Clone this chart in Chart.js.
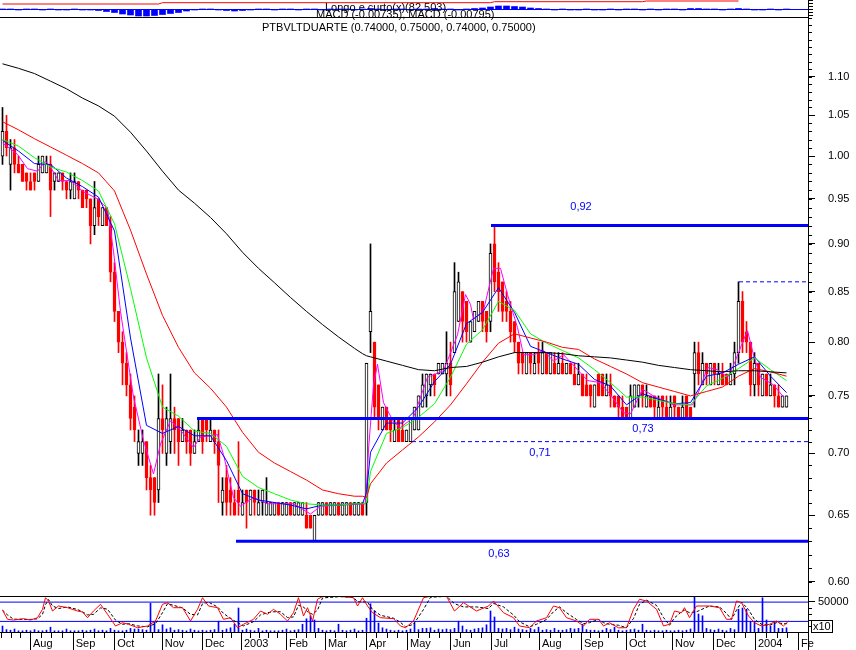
<!DOCTYPE html>
<html>
<head>
<meta charset="utf-8">
<script src="https://cdn.jsdelivr.net/npm/chart.js@4.4.0/dist/chart.umd.min.js"></script>
<style>
  body { margin: 0; background: #fff; width: 856px; height: 650px; overflow: hidden; position: relative;
         font-family: "Liberation Sans", Arial, sans-serif; }
  canvas { position: absolute; left: 0; }
  .t { position: absolute; font-size: 11px; line-height: 12px; white-space: nowrap; color: #000; }
  .box { position: absolute; font-size: 11px; line-height: 11px; border: 1px solid #000; padding: 0 1px; }
</style>
</head>
<body>
<canvas id="macd" width="856" height="17" style="top:0"></canvas>
<canvas id="price" width="856" height="579" style="top:17px"></canvas>
<canvas id="osc" width="856" height="54" style="top:596px"></canvas>
<div class="t" style="left:325px;top:1px">Longo e curto(x)(82.503)</div>
<div class="t" style="left:316px;top:8px">MACD (-0.00735), MACD (-0.00795)</div>
<div class="t" style="left:262px;top:21px">PTBVLTDUARTE (0.74000, 0.75000, 0.74000, 0.75000)</div>
<div class="box" style="left:811px;top:620px">x10</div>
<script>
Chart.defaults.font.family = '"Liberation Sans", Arial, sans-serif';
Chart.defaults.font.size = 11;
Chart.defaults.color = '#000';

// x runs in candle index units (one candle = two trading days)
const xMin = -0.625, xMax = 201.375;

const monthTicks = [6.875, 17.55, 27.95, 39.8, 49.875, 59.625, 70.875, 80.625, 90.875, 101.125,
  111.875, 122.125, 134.125, 144.625, 155.875, 167.375, 177.625, 188.125, 198.875];
const monthLabels = ['Aug', 'Sep', 'Oct', 'Nov', 'Dec', '2003', 'Feb', 'Mar', 'Apr', 'May',
  'Jun', 'Jul', 'Aug', 'Sep', 'Oct', 'Nov', 'Dec', '2004', 'Fe'];

const priceTicks = [0.60, 0.65, 0.70, 0.75, 0.80, 0.85, 0.90, 0.95, 1.00, 1.05, 1.10];
const priceMin = 0.5926, priceMax = 1.1815;

const opens = [
  1.00,1.03,0.99,1.01,0.99,0.99,0.98,0.97,0.98,0.97,
  0.98,0.98,0.99,0.97,0.97,0.98,0.97,0.96,0.95,0.97,
  0.96,0.96,0.95,0.92,0.95,0.92,0.94,0.92,0.87,0.83,
  0.80,0.78,0.76,0.74,0.70,0.70,0.71,0.68,0.68,0.67,
  0.73,0.70,0.71,0.73,0.73,0.71,0.72,0.72,0.70,0.71,
  0.73,0.73,0.71,0.72,0.71,0.66,0.68,0.67,0.66,0.67,
  0.65,0.67,0.65,0.67,0.65,0.66,0.65,0.65,0.65,0.66,
  0.65,0.65,0.66,0.65,0.65,0.65,0.65,0.65,0.63,0.65,
  0.65,0.66,0.65,0.65,0.66,0.65,0.65,0.66,0.65,0.65,
  0.66,0.66,0.81,0.80,0.76,0.72,0.74,0.73,0.71,0.73,
  0.72,0.71,0.71,0.72,0.72,0.74,0.75,0.76,0.77,0.77,
  0.77,0.77,0.78,0.79,0.82,0.85,0.84,0.80,0.81,0.82,
  0.84,0.83,0.82,0.90,0.87,0.86,0.84,0.83,0.82,0.80,
  0.79,0.77,0.79,0.77,0.79,0.77,0.79,0.77,0.78,0.77,
  0.78,0.77,0.78,0.77,0.76,0.77,0.76,0.76,0.74,0.77,
  0.77,0.75,0.76,0.75,0.75,0.74,0.74,0.73,0.74,0.75,
  0.76,0.74,0.75,0.75,0.73,0.75,0.74,0.73,0.75,0.74,
  0.73,0.75,0.74,0.77,0.79,0.76,0.78,0.76,0.78,0.76,
  0.77,0.77,0.76,0.77,0.79,0.84,0.81,0.80,0.76,0.78,
  0.75,0.77,0.75,0.76,0.75,0.74,0.74];
const highs = [
  1.06,1.05,1.02,1.02,1.00,0.99,0.98,0.98,0.98,1.00,
  1.00,1.00,1.00,0.98,0.98,0.98,0.97,0.98,0.98,0.97,
  0.96,0.96,0.95,0.97,0.95,0.94,0.94,0.93,0.88,0.83,
  0.81,0.79,0.77,0.75,0.72,0.72,0.71,0.69,0.68,0.77,
  0.76,0.74,0.77,0.74,0.73,0.73,0.72,0.72,0.72,0.73,
  0.73,0.73,0.73,0.72,0.72,0.68,0.69,0.68,0.67,0.71,
  0.67,0.67,0.67,0.67,0.67,0.67,0.68,0.66,0.66,0.66,
  0.66,0.66,0.66,0.66,0.66,0.66,0.66,0.65,0.65,0.66,
  0.66,0.66,0.66,0.66,0.66,0.66,0.66,0.66,0.66,0.66,
  0.66,0.78,0.90,0.80,0.76,0.74,0.74,0.73,0.73,0.73,
  0.73,0.72,0.73,0.74,0.75,0.77,0.77,0.77,0.77,0.78,
  0.78,0.81,0.80,0.88,0.87,0.85,0.84,0.82,0.83,0.84,
  0.84,0.83,0.90,0.92,0.88,0.86,0.85,0.84,0.82,0.80,
  0.79,0.79,0.79,0.79,0.80,0.80,0.79,0.79,0.79,0.79,
  0.79,0.78,0.78,0.78,0.78,0.77,0.77,0.76,0.76,0.77,
  0.77,0.77,0.77,0.75,0.75,0.75,0.74,0.76,0.76,0.76,
  0.76,0.76,0.75,0.75,0.75,0.75,0.75,0.75,0.75,0.74,
  0.75,0.75,0.74,0.80,0.80,0.79,0.78,0.78,0.78,0.78,
  0.78,0.77,0.78,0.80,0.86,0.85,0.82,0.80,0.79,0.78,
  0.77,0.77,0.77,0.76,0.76,0.75,0.75];
const lows = [
  0.99,1.00,0.96,0.98,0.98,0.97,0.96,0.96,0.96,0.97,
  0.98,0.98,0.93,0.96,0.97,0.96,0.95,0.95,0.95,0.95,
  0.94,0.94,0.90,0.91,0.92,0.92,0.92,0.86,0.82,0.79,
  0.76,0.75,0.72,0.71,0.69,0.69,0.67,0.65,0.65,0.66,
  0.70,0.69,0.70,0.70,0.69,0.71,0.70,0.69,0.70,0.71,
  0.70,0.71,0.71,0.70,0.66,0.65,0.65,0.65,0.65,0.65,
  0.65,0.64,0.65,0.65,0.65,0.65,0.65,0.65,0.65,0.65,
  0.65,0.65,0.65,0.65,0.65,0.65,0.64,0.64,0.63,0.65,
  0.65,0.65,0.65,0.65,0.65,0.65,0.65,0.65,0.65,0.65,
  0.65,0.65,0.79,0.73,0.72,0.72,0.72,0.71,0.71,0.71,
  0.71,0.71,0.71,0.72,0.72,0.74,0.74,0.75,0.75,0.77,
  0.77,0.75,0.75,0.79,0.82,0.80,0.80,0.80,0.81,0.82,
  0.81,0.80,0.81,0.85,0.83,0.82,0.82,0.80,0.79,0.77,
  0.77,0.77,0.77,0.77,0.77,0.77,0.77,0.77,0.77,0.77,
  0.77,0.77,0.77,0.76,0.76,0.75,0.75,0.74,0.74,0.75,
  0.75,0.75,0.74,0.74,0.73,0.73,0.73,0.73,0.74,0.74,
  0.74,0.74,0.74,0.73,0.73,0.73,0.73,0.73,0.73,0.73,
  0.73,0.73,0.73,0.74,0.76,0.76,0.76,0.76,0.76,0.76,
  0.76,0.76,0.76,0.76,0.78,0.79,0.79,0.75,0.75,0.75,
  0.75,0.75,0.75,0.74,0.74,0.74,0.74];
const closes = [
  1.03,1.01,1.01,0.99,0.98,0.97,0.97,0.96,0.97,0.99,
  1.00,0.99,0.96,0.98,0.98,0.97,0.96,0.97,0.97,0.96,
  0.94,0.95,0.92,0.94,0.93,0.94,0.92,0.87,0.83,0.80,
  0.78,0.76,0.73,0.72,0.71,0.71,0.68,0.67,0.66,0.73,
  0.72,0.73,0.73,0.72,0.71,0.72,0.71,0.70,0.71,0.72,
  0.71,0.72,0.72,0.71,0.69,0.67,0.66,0.66,0.65,0.66,
  0.66,0.66,0.67,0.66,0.66,0.67,0.66,0.66,0.66,0.65,
  0.66,0.66,0.65,0.66,0.66,0.66,0.64,0.64,0.65,0.66,
  0.66,0.65,0.66,0.66,0.65,0.66,0.66,0.65,0.66,0.66,
  0.65,0.78,0.83,0.74,0.73,0.74,0.72,0.72,0.72,0.71,
  0.71,0.72,0.73,0.74,0.75,0.76,0.77,0.77,0.76,0.78,
  0.78,0.78,0.76,0.85,0.86,0.82,0.81,0.82,0.83,0.84,
  0.82,0.81,0.89,0.86,0.85,0.83,0.83,0.81,0.80,0.78,
  0.78,0.79,0.78,0.78,0.78,0.79,0.77,0.79,0.77,0.78,
  0.77,0.78,0.77,0.76,0.77,0.75,0.75,0.75,0.76,0.75,
  0.75,0.76,0.75,0.74,0.74,0.73,0.73,0.75,0.76,0.76,
  0.75,0.75,0.74,0.74,0.74,0.74,0.73,0.74,0.74,0.73,
  0.74,0.73,0.73,0.79,0.77,0.78,0.77,0.78,0.77,0.77,
  0.76,0.76,0.77,0.79,0.84,0.80,0.80,0.76,0.78,0.76,
  0.77,0.75,0.76,0.75,0.74,0.75,0.75];

// moving averages at these candle positions
const maIdx = [0,4,8,12,16,20,24,28,32,36,40,44,48,52,56,60,64,68,72,76,80,84,88,90,91,92,
  96,100,104,108,112,116,120,124,128,132,136,140,144,148,152,156,160,164,168,172,176,180,184,188,192,196];
const ma200 = [1.117,1.111,1.104,1.094,1.084,1.072,1.062,1.049,1.029,1.006,0.982,0.960,0.945,0.929,0.911,0.891,
  0.874,0.859,0.844,0.830,0.817,0.805,0.794,0.789,0.787,0.786,0.782,0.778,0.774,0.773,0.776,0.777,0.781,0.786,
  0.790,0.790,0.790,0.789,0.787,0.786,0.785,0.783,0.781,0.778,0.776,0.774,0.773,0.772,0.773,0.773,0.772,0.771];
const ma50 = [1.042,1.032,1.021,1.011,1.001,0.991,0.980,0.959,0.915,0.868,0.826,0.795,0.771,0.757,0.740,0.718,
  0.701,0.692,0.685,0.678,0.670,0.667,0.665,0.665,0.664,0.675,0.692,0.703,0.714,0.727,0.742,0.761,0.781,0.799,
  0.808,0.804,0.800,0.795,0.793,0.784,0.777,0.770,0.762,0.758,0.754,0.750,0.754,0.758,0.768,0.775,0.772,0.768];
const ma20 = [1.020,1.012,0.998,0.987,0.981,0.971,0.959,0.922,0.853,0.785,0.740,0.732,0.719,0.717,0.706,0.681,
  0.672,0.667,0.662,0.659,0.658,0.658,0.659,0.659,0.660,0.685,0.717,0.722,0.731,0.743,0.767,0.798,0.812,0.840,
  0.831,0.808,0.799,0.792,0.785,0.774,0.762,0.749,0.749,0.746,0.743,0.742,0.759,0.766,0.775,0.785,0.774,0.764];
const ma10 = [1.019,1.006,0.991,0.990,0.974,0.964,0.952,0.914,0.804,0.724,0.717,0.723,0.715,0.715,0.694,0.667,
  0.662,0.660,0.658,0.655,0.658,0.658,0.659,0.659,0.668,0.701,0.726,0.726,0.740,0.763,0.779,0.818,0.829,0.854,
  0.829,0.796,0.790,0.784,0.779,0.765,0.759,0.742,0.752,0.747,0.743,0.744,0.768,0.771,0.779,0.786,0.768,0.753];
const ma5Idx = [0,3.75,6.25,8.75,10.75,12,14,17,20.25,23.75,26.25,27.75,29.5,31.25,32.75,35.25,37.75,39.5,42,44.5,
  47.75,49.5,53.75,55.25,57.75,59.5,62.75,66.25,72.75,77,79.5,90.75,91.5,92.75,93.75,95.25,97.75,99.5,102.75,106.25,
  110.25,113.75,115.75,117,117.75,120.25,122.75,124.5,126.25,128.75,130.25,132.75,135.25,137.75,140.25,142.75,146.25,149.5,152,155.25,
  157,160,162.75,167.75,172.5,173.75,176.25,178.75,181.25,182.75,185.25,186.25,187.75,189.5,192.75,195.25];
const ma5 = [1.016,1.002,0.985,0.982,0.994,0.987,0.971,0.971,0.958,0.950,0.939,0.892,0.830,0.785,0.749,0.711,0.683,0.708,0.728,0.720,
  0.705,0.714,0.716,0.699,0.664,0.657,0.664,0.659,0.659,0.651,0.657,0.659,0.703,0.760,0.779,0.744,0.727,0.722,0.731,0.767,
  0.773,0.807,0.847,0.837,0.822,0.831,0.874,0.874,0.847,0.814,0.788,0.788,0.792,0.782,0.788,0.778,0.764,0.762,0.751,0.735,
  0.734,0.756,0.750,0.742,0.742,0.751,0.776,0.774,0.767,0.778,0.802,0.811,0.788,0.767,0.760,0.749];

// support / resistance lines
const levelValues = [0.92, 0.73, 0.71, 0.63, 0.86];
const levelStart = [122.125, 48.625, 102.375, 58.375, 184.125];
const levelText = ['0,92', '0,73', '0,71', '0,63', ''];
const levelTextAt = [144.625, 160.125, 134.375, 124.125, 0];
const levelLook = [
  { w: 3, dash: [], dy: -19 }, { w: 3, dash: [], dy: 11 }, { w: 1, dash: [4, 3], dy: 11 },
  { w: 3, dash: [], dy: 13 }, { w: 1, dash: [4, 3], dy: 0 }];

// volume (x10) per candle
const volume = [
  10000,4000,3000,5000,2000,2000,3000,2000,4000,2000,
  2000,3000,8000,2000,2000,2000,5000,2000,2000,2000,
  3000,2000,3000,5000,2000,3000,2000,6000,3000,2000,
  2000,3000,6000,5000,5000,4000,3000,48000,18000,4000,
  12000,5000,7000,3000,4000,3000,2000,5000,3000,2000,
  3000,2000,3000,4000,18000,3000,5000,7000,13000,40000,
  3000,5000,3000,2000,6000,2000,3000,2000,2000,2000,
  3000,5000,2000,3000,4000,13000,22000,27000,20000,6000,
  3000,2000,3000,2000,13000,3000,2000,3000,5000,2000,
  3000,23000,47000,35000,15000,7000,5000,3000,2000,3000,
  2000,3000,5000,15000,4000,6000,6000,7000,3000,5000,
  4000,5000,4000,6000,18000,10000,4000,3000,5000,6000,
  7000,12000,35000,25000,6000,5000,6000,4000,8000,5000,
  4000,3000,6000,4000,8000,3000,4000,3000,6000,3000,
  3000,4000,6000,5000,6000,13000,4000,3000,3000,2000,
  3000,6000,4000,8000,3000,2000,3000,4000,5000,3000,
  13000,3000,2000,3000,2000,2000,3000,2000,2000,3000,
  2000,3000,5000,65000,30000,27000,6000,4000,3000,5000,
  3000,2000,6000,4000,38000,40000,38000,18000,18000,6000,
  57000,20000,10000,18000,6000,6000,7000];

// oscillator (red) and its signal (black dashed)
const oscIdx = [0,1.25,2.75,5.25,7,8.75,10,10.75,11.5,12.5,
  14,16.25,18.75,20,21.25,22.75,24.5,26.25,28.25,30,
  31.5,33.75,36.25,38.25,40,41.25,42.75,45,47,48.75,
  50,51.5,53.75,55.25,57,58.75,60.25,62.75,64.5,66.25,
  67.75,69.5,71.25,72.75,74,75.25,76.25,77.5,78.75,80,
  84.5,87.75,88.75,90,91.25,92.5,94.5,97.75,99.5,100.75,
  102.75,105.25,107,111,113,115.25,118.5,121.5,122.75,125.25,
  127.75,129.25,131.75,133.5,136,137.75,139.25,141,143.5,145.25,
  146.75,149,150.25,151.75,154,156,157.75,159.25,161,163.5,
  165.25,166.75,168,169.75,170.5,171.75,173.5,176.75,179.25,181,
  182.25,183.5,184.75,186.5,188,189.75,191.75,193.5,195.25,196.5];
const osc = [55,26.5,24.3,28.4,24.3,31.5,57.6,93.7,83.5,52.3,
  67.9,62.6,52.3,49.2,31.5,52.3,73.2,42.1,5.7,15.9,
  11,0.4,5.7,21.2,73.2,78.2,62.6,62.6,21.2,57.6,
  93.7,67.9,62.6,26.5,31.5,0.4,11,26.5,52.3,42.1,
  57.6,42.1,21.2,47,93.7,36.8,62.6,21.2,88.7,97.5,
  97.5,93.7,67.9,93.7,67.9,47,31.5,28.4,5.7,0.4,
  21.2,93.7,98,98,52.3,78.2,52.3,67.9,83.5,47,
  31.5,5.7,0.4,21.2,31.5,67.9,62.6,31.5,21.2,5.7,
  26.5,26.5,5.7,15.9,0,0.4,57.6,88.7,83.5,57.6,
  5.7,11,52.3,47,62.6,31.5,67.9,67.9,62.6,26.5,
  26.5,83.5,78.2,36.8,15.9,5.7,11,21.2,5.7,21.2];
const oscSignal = [55,40,27,26,26,28,42,72,88,68,
  60,65,57,50,40,42,62,58,24,11,
  13,6,3,13,47,75,70,62,42,40,
  75,80,65,45,29,16,6,19,40,47,
  50,50,32,34,70,65,50,42,55,93,
  97,95,81,81,80,57,39,30,17,3,
  11,57,95,98,75,65,65,60,76,65,
  40,19,3,11,26,50,65,47,26,13,
  16,26,16,11,8,0.4,29,73,86,70,
  32,8,31,50,55,47,50,68,65,45,
  26,55,80,57,26,11,8,16,13,13];
const oscBands = [80, 20];

// MACD strip
const macdHist = [
  0.5,0.5,-0.5,0.5,0.5,-0.5,0.5,-0.5,-0.5,0.5,-0.5,-0.5,
  -1,-2,-3,-4.5,-5.5,-6.5,-6.5,-6,-5,-4,-3,-1.5,
  -0.5,0.5,0.5,-0.5,-1,-1.5,-1,-0.5,0.5,0.5,-0.5,0.5,
  0.5,-0.5,0.5,0.5,-0.5,0.5,0.5,0.5,-0.5,0.5,1,0.5,
  -0.5,0.5,0.5,-0.5,0.5,0.5,1,0.5,0.5,-0.5,0.5,1,
  1.5,2.5,3.5,3.5,3,2.5,1.5,1,
  0.5,-0.5,0.5,-0.5,-0.5,0.5,-0.5,-0.5,0.5,-0.5,0.5,0.5,
  -0.5,0.5,-0.5,0.5,0.5,-0.5,1,1,0.5,0.5,-0.5,0.5,
  1,0.5,-0.5,-0.5,0.5,-0.5,0.5];
const macdLineIdx = [0, 39, 40, 122, 123, 160, 161, 184];
const macdLine = [5.5, 5.5, 6.8, 6.8, 7.8, 7.8, 8.5, 8.5];

const pts = (xs, ys) => xs.map((x, i) => ({ x: x, y: ys[i] }));
const flat = (v, from) => [{ x: from, y: v }, { x: xMax, y: v }];
// fixed-width right axis, no extra label padding above/below the plot
const rightAxisFit = s => { s.width = 48; s.paddingTop = 0; s.paddingBottom = 0; };

// ---------- price panel ----------
const up = closes.map((c, i) => c >= opens[i]);
const wicks = closes.map((c, i) => ({ x: i, y: [lows[i], highs[i]] }));
const bodies = closes.map((c, i) => ({ x: i, y: [Math.min(opens[i], c), Math.max(opens[i], c)] }));

const maLine = (ys, color, xs) => ({
  type: 'line', data: pts(xs || maIdx, ys), borderColor: color, borderWidth: 1,
  pointRadius: 0, tension: 0, order: 2
});

const priceDeco = {
  id: 'priceDeco',
  afterDraw(chart) {
    const { ctx, chartArea: a, scales: { x, y } } = chart;
    ctx.save();
    ctx.strokeStyle = '#000';
    ctx.lineWidth = 1;
    ctx.beginPath();
    ctx.moveTo(0, a.top + 0.5);
    ctx.lineTo(a.right, a.top + 0.5);
    for (let c = 59; c <= 118; c++) {
      const py = Math.round(y.getPixelForValue(c / 100)) + 0.5;
      if (py < a.top || py > a.bottom) continue;
      ctx.moveTo(a.right, py);
      ctx.lineTo(a.right + 4, py);
    }
    ctx.stroke();
    ctx.fillStyle = '#00f';
    ctx.font = '11px "Liberation Sans", Arial, sans-serif';
    ctx.textAlign = 'center';
    ctx.textBaseline = 'middle';
    levelText.forEach((t, i) => {
      if (!t) return;
      ctx.fillText(t, x.getPixelForValue(levelTextAt[i]), y.getPixelForValue(levelValues[i]) + levelLook[i].dy);
    });
    ctx.restore();
  }
};

const levelSets = levelValues.map((v, i) => ({
  type: 'line', data: flat(v, levelStart[i]), borderColor: '#00f',
  borderWidth: levelLook[i].w, borderDash: levelLook[i].dash, pointRadius: 0, order: 1
}));

new Chart(document.getElementById('price'), {
  type: 'bar',
  data: {
    datasets: [
      ...levelSets,
      maLine(ma200, '#000'),
      maLine(ma50, '#f00'),
      maLine(ma20, '#0f0'),
      maLine(ma10, '#00f'),
      maLine(ma5, '#f0f', ma5Idx),
      { type: 'bar', data: bodies, grouped: false, barThickness: 3, borderWidth: 1, borderSkipped: false,
        backgroundColor: up.map(u => u ? '#fff' : '#f00'), borderColor: up.map(u => u ? '#000' : '#f00'), order: 3 },
      { type: 'bar', data: wicks, grouped: false, barThickness: 1, borderWidth: 0,
        backgroundColor: up.map(u => u ? '#000' : '#f00'), order: 4 }
    ]
  },
  options: {
    responsive: false, animation: false, layout: { padding: 0 },
    plugins: { legend: { display: false }, tooltip: { enabled: false } },
    scales: {
      x: { type: 'linear', min: xMin, max: xMax, offset: false, display: false },
      y: {
        type: 'logarithmic', position: 'right', min: priceMin, max: priceMax,
        afterBuildTicks: s => { s.ticks = priceTicks.map(v => ({ value: v })); },
        afterFit: rightAxisFit,
        ticks: { callback: v => Number(v).toFixed(2), padding: 13, autoSkip: false, color: '#000' },
        grid: { drawOnChartArea: false, color: '#000', tickLength: 7 },
        border: { color: '#000' }
      }
    }
  },
  plugins: [priceDeco]
});

// ---------- oscillator / volume panel ----------
const weekTicks = [];
for (let i = 0; i < monthTicks.length - 1; i++) {
  const span = monthTicks[i + 1] - monthTicks[i];
  const n = Math.round(span / 2.4);
  for (let j = 1; j < n; j++) weekTicks.push(monthTicks[i] + j * span / n);
}
for (let k = monthTicks[0] - 2.4; k > xMin; k -= 2.4) weekTicks.push(k);

const oscDeco = {
  id: 'oscDeco',
  afterDraw(chart) {
    const { ctx, chartArea: a, scales: { x, yv } } = chart;
    ctx.save();
    ctx.strokeStyle = '#000';
    ctx.lineWidth = 1;
    ctx.beginPath();
    ctx.moveTo(0, a.top + 0.5);
    ctx.lineTo(a.right, a.top + 0.5);
    monthTicks.forEach(k => {
      const px = Math.round(x.getPixelForValue(k)) + 0.5;
      ctx.moveTo(px, a.bottom);
      ctx.lineTo(px, a.bottom + 18);
    });
    weekTicks.forEach(k => {
      const px = Math.round(x.getPixelForValue(k)) + 0.5;
      ctx.moveTo(px, a.bottom);
      ctx.lineTo(px, a.bottom + 6);
    });
    [10000, 20000, 30000, 40000].forEach(v => {
      const py = Math.round(yv.getPixelForValue(v)) + 0.5;
      ctx.moveTo(a.right, py);
      ctx.lineTo(a.right + 4, py);
    });
    ctx.moveTo(a.right + 0.5, a.bottom);
    ctx.lineTo(a.right + 0.5, a.bottom + 18);
    ctx.stroke();
    ctx.restore();
  }
};

new Chart(document.getElementById('osc'), {
  type: 'bar',
  data: {
    datasets: [
      { type: 'line', data: pts(oscIdx, osc), borderColor: '#f00', borderWidth: 1, pointRadius: 0, yAxisID: 'yo', order: 1 },
      { type: 'line', data: pts(oscIdx, oscSignal), borderColor: '#000', borderWidth: 1, borderDash: [3, 2],
        pointRadius: 0, yAxisID: 'yo', order: 2 },
      ...oscBands.map(v => ({ type: 'line', data: flat(v, xMin), borderColor: '#00f', borderWidth: 1,
        pointRadius: 0, yAxisID: 'yo', order: 3 })),
      { type: 'bar', data: volume.map((v, i) => ({ x: i, y: v })), grouped: false, barThickness: 1,
        backgroundColor: '#00f', yAxisID: 'yv', order: 4 }
    ]
  },
  options: {
    responsive: false, animation: false, layout: { padding: 0 },
    plugins: { legend: { display: false }, tooltip: { enabled: false } },
    scales: {
      x: {
        type: 'linear', min: xMin, max: xMax, offset: false, position: 'bottom',
        afterBuildTicks: s => { s.ticks = monthTicks.map(v => ({ value: v })); },
        afterFit: s => { s.height = 18; s.paddingLeft = 0; s.paddingRight = 0; },
        ticks: { callback: (v, i) => monthLabels[i], align: 'start', labelOffset: 3, padding: 5,
                 autoSkip: false, maxRotation: 0, color: '#000' },
        grid: { display: false, drawTicks: false, tickLength: 0 },
        border: { display: true, color: '#000' }
      },
      yo: { display: false, min: -13, max: 99 },
      yv: {
        position: 'right', min: 0, max: 60000,
        afterBuildTicks: s => { s.ticks = [{ value: 50000 }]; },
        afterFit: rightAxisFit,
        ticks: { callback: () => '50000', padding: 3, color: '#000' },
        grid: { drawOnChartArea: false, color: '#000', tickLength: 7 },
        border: { color: '#000' }
      }
    }
  },
  plugins: [oscDeco]
});

// ---------- MACD strip ----------
new Chart(document.getElementById('macd'), {
  type: 'bar',
  data: {
    datasets: [
      { type: 'line', data: pts(macdLineIdx, macdLine), borderColor: '#f00', borderWidth: 1, pointRadius: 0, order: 1 },
      { type: 'line', data: flat(0, xMin), borderColor: '#00f', borderWidth: 1, pointRadius: 0, order: 2 },
      { type: 'bar', data: macdHist.map((v, i) => ({ x: i * 2, y: v })), grouped: false, barThickness: 6,
        backgroundColor: '#00f', order: 3 }
    ]
  },
  options: {
    responsive: false, animation: false, layout: { padding: 0 },
    plugins: { legend: { display: false }, tooltip: { enabled: false } },
    scales: {
      x: { type: 'linear', min: xMin, max: xMax, offset: false, display: false },
      y: {
        position: 'right', min: -7.5, max: 9.5,
        afterBuildTicks: s => { s.ticks = [-6, -3, 0, 3, 6, 9].map(v => ({ value: v })); },
        afterFit: rightAxisFit,
        ticks: { display: false },
        grid: { drawOnChartArea: false, color: '#000', tickLength: 5 },
        border: { color: '#000' }
      }
    }
  }
});
</script>
</body>
</html>
